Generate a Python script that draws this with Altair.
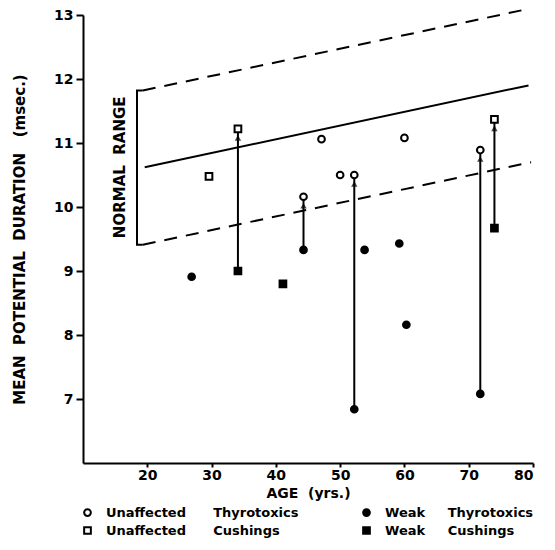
import altair as alt
import pandas as pd

NB = "\u00a0"

# ---- data ----
ut_age = [44.3, 47.1, 50.0, 52.2, 60.0, 71.8]
ut_val = [10.16, 11.06, 10.5, 10.5, 11.08, 10.89]
wt_age = [26.9, 44.3, 52.2, 53.8, 59.2, 60.3, 71.8]
wt_val = [8.91, 9.33, 6.84, 9.33, 9.43, 8.16, 7.08]
uc_age = [29.6, 34.1, 74.0]
uc_val = [10.48, 11.22, 11.37]
wc_age = [34.1, 41.1, 74.0]
wc_val = [9.0, 8.8, 9.67]

arrow_age = [34.1, 44.3, 52.2, 71.8, 74.0]
arrow_low = [9.0, 9.33, 6.84, 7.08, 9.67]
arrow_high = [11.22, 10.16, 10.5, 10.89, 11.37]

mean_age = [19.6, 79.3]
mean_val = [10.62, 11.9]
upper_age = [19.3, 79.5]
upper_val = [11.82, 13.1]
lower_age = [19.3, 79.7]
lower_val = [9.41, 10.70]
bracket_age = [19.3, 18.4, 18.4, 19.3]
bracket_val = [11.82, 11.82, 9.41, 9.41]

groups = [
    "Unaffected" + NB * 6 + "Thyrotoxics",
    "Weak" + NB * 5 + "Thyrotoxics",
    "Unaffected" + NB * 6 + "Cushings",
    "Weak" + NB * 5 + "Cushings",
]
x_ticks = [20, 30, 40, 50, 60, 70, 80]
y_ticks = [7, 8, 9, 10, 11, 12, 13]

FONT = "DejaVu Sans"

rows = []
for g, ages, vals in [(groups[0], ut_age, ut_val), (groups[1], wt_age, wt_val),
                      (groups[2], uc_age, uc_val), (groups[3], wc_age, wc_val)]:
    for a, v in zip(ages, vals):
        rows.append({"age": a, "val": v, "group": g})
pts = pd.DataFrame(rows)

arrows = pd.DataFrame({"age": arrow_age, "low": arrow_low, "high": arrow_high})
mean_df = pd.DataFrame({"age": mean_age, "val": mean_val})
up_df = pd.DataFrame({"age": upper_age, "val": upper_val})
lo_df = pd.DataFrame({"age": lower_age, "val": lower_val})
br_df = pd.DataFrame({"age": bracket_age, "val": bracket_val, "o": [0, 1, 2, 3]})
label_df = pd.DataFrame({"age": [15.8], "val": [10.62], "t": ["NORMAL" + NB * 2 + "RANGE"]})

xs = alt.Scale(domain=[10, 80], nice=False, zero=False)
ys = alt.Scale(domain=[6, 13], nice=False, zero=False)

X = alt.X("age:Q", scale=xs, axis=alt.Axis(
    values=x_ticks, title="AGE" + NB * 2 + "(yrs.)", grid=False, format="d",
    tickSize=4, labelPadding=1, titlePadding=4))
Y = alt.Y("val:Q", scale=ys, axis=alt.Axis(
    values=y_ticks, format="d",
    title="MEAN" + NB * 2 + "POTENTIAL" + NB * 2 + "DURATION" + NB * 3 + "(msec.)",
    titleFontSize=15,
    grid=False, tickSize=7, labelPadding=3, titlePadding=26))

base_x = alt.X("age:Q", scale=xs)
base_y = alt.Y("val:Q", scale=ys)

mean_line = alt.Chart(mean_df).mark_line(color="black", strokeWidth=2).encode(x=X, y=Y)
up_line = alt.Chart(up_df).mark_line(color="black", strokeWidth=2, strokeDash=[13, 9]).encode(x=base_x, y=base_y)
lo_line = alt.Chart(lo_df).mark_line(color="black", strokeWidth=2, strokeDash=[13, 9]).encode(x=base_x, y=base_y)
bracket = alt.Chart(br_df).mark_line(color="black", strokeWidth=2).encode(
    x=base_x, y=base_y, order="o:Q")
nr_text = alt.Chart(label_df).mark_text(
    angle=270, font=FONT, fontWeight="bold", fontSize=15, color="black",
    align="center", baseline="middle").encode(x=base_x, y=base_y, text="t:N")

rules = alt.Chart(arrows).mark_rule(color="black", strokeWidth=2).encode(
    x=alt.X("age:Q", scale=xs), y=alt.Y("low:Q", scale=ys), y2="high:Q")
heads = alt.Chart(arrows).mark_point(
    shape="triangle-up", filled=True, color="black", size=42, yOffset=9).encode(
    x=alt.X("age:Q", scale=xs), y=alt.Y("high:Q", scale=ys))

leg = dict(title=None, orient="none", legendX=-2, legendY=491, direction="horizontal",
           columns=2, columnPadding=60, rowPadding=3,
           labelFont=FONT, labelFontWeight="bold", labelFontSize=13,
           labelColor="black", symbolSize=45, symbolStrokeWidth=2,
           labelOffset=12, labelLimit=400, padding=0)

points = alt.Chart(pts).mark_point(
    filled=False, strokeWidth=2, size=45, opacity=1).encode(
    x=base_x, y=base_y,
    shape=alt.Shape("group:N", scale=alt.Scale(
        domain=groups, range=["circle", "circle", "square", "square"]),
        legend=alt.Legend(**leg)),
    fill=alt.Fill("group:N", scale=alt.Scale(
        domain=groups, range=["white", "black", "white", "black"]),
        legend=alt.Legend(**leg)),
    stroke=alt.Stroke("group:N", scale=alt.Scale(
        domain=groups, range=["black", "black", "black", "black"]),
        legend=alt.Legend(**leg)),
)

chart = alt.layer(mean_line, up_line, lo_line, bracket, nr_text, rules, heads, points).properties(
    width=450, height=448,
    autosize=alt.AutoSizeParams(type="none"),
    padding={"left": 75, "top": 7, "right": 14, "bottom": 79},
).configure_view(stroke=None).configure_axis(
    domainColor="black", domainWidth=2, tickColor="black", tickWidth=2,
    labelFont=FONT, labelFontWeight="bold", labelFontSize=14, labelColor="black",
    titleFont=FONT, titleFontWeight="bold", titleFontSize=14, titleColor="black",
)

chart.save("out.html", embed_options={"renderer": "svg", "actions": False})
